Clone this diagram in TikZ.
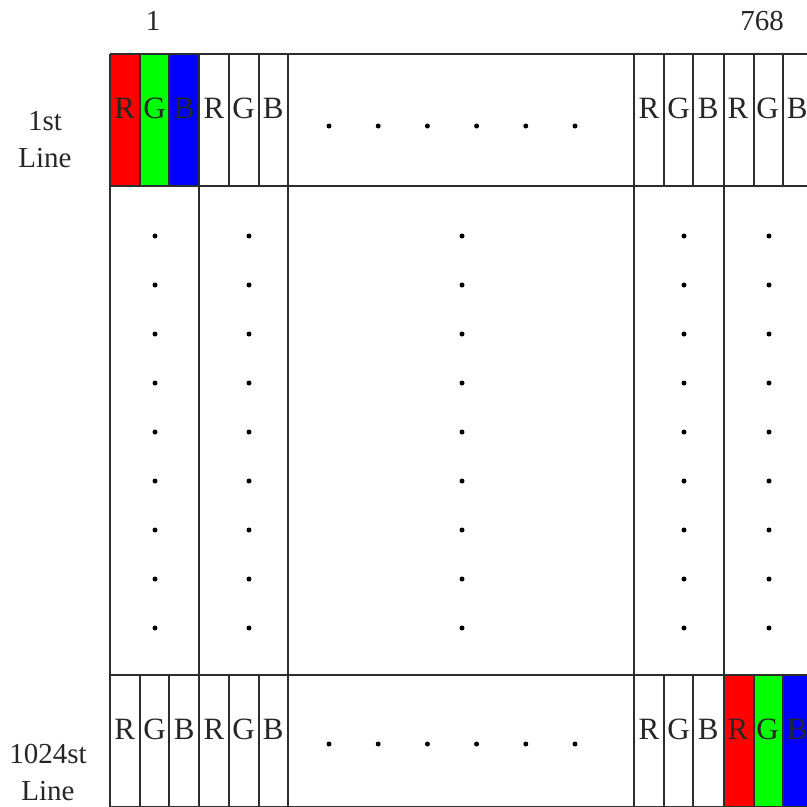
\documentclass[tikz,border=0pt]{standalone}
\usepackage{fontspec}
\setmainfont{Liberation Serif}
\definecolor{pixred}{RGB}{255, 0, 0}
\definecolor{pixgreen}{RGB}{0, 255, 0}
\definecolor{pixblue}{RGB}{0, 0, 255}
\definecolor{gridline}{RGB}{45, 45, 45}
\usetikzlibrary{positioning}

\begin{document}
\begin{tikzpicture}[x=1pt, y=-1pt,
        grid/.style={draw=gridline, line width=2pt},
        sub/.style={anchor=base, inner sep=0pt, text=black!85, font=\fontsize{31}{35}\selectfont},
        lbl/.style={align=center, inner sep=0pt, text=black!85, font=\fontsize{29}{37}\selectfont},
        pt/.style={circle, fill=black, inner sep=0pt, minimum size=5pt}
    ]
        \useasboundingbox (0,0) rectangle (807,807);
        \clip (0,0) rectangle (807,807);
        % coloured sub-pixels: first pixel of line 1, last pixel of line 1024
        \fill[pixred]   (110,54) rectangle (139.7,186);
        \fill[pixgreen] (139.7,54) rectangle (169.3,186);
        \fill[pixblue]  (169.3,54) rectangle (199,186);
        \fill[pixred]   (724,675) rectangle (753.7,807);
        \fill[pixgreen] (753.7,675) rectangle (783.3,807);
        \fill[pixblue]  (783.3,675) rectangle (813,807);
        % rows
        \draw[grid] (110,54) -- (820,54);
        \draw[grid] (110,186) -- (820,186);
        \draw[grid] (110,675) -- (820,675);
        \draw[grid] (110,807) -- (820,807);
        % pixel borders, full height
        \foreach \x in {110, 199, 288, 634, 724, 813}
            \draw[grid] (\x,54) -- (\x,807);
        % sub-pixel borders in first and last line
        \foreach \x in {139.7, 169.3, 229, 258.7, 663.7, 693.3, 753.7, 783.3} {
            \draw[grid] (\x,54) -- (\x,186);
            \draw[grid] (\x,675) -- (\x,807);
        }
        % R G B letters
        \foreach \grp/\xs in {l/110, r/634}
            \foreach \c [count=\i from 0] in {R,G,B,R,G,B} {
                \node[sub] (top-\grp-\i) at ({\xs+29.67*(\i+0.5)},118) {\c};
                \node[sub] (bot-\grp-\i) at ({\xs+29.67*(\i+0.5)},739) {\c};
            }
        % dots along the lines
        \foreach \i in {0,...,5} {
            \node[pt] (dt-\i) at ({329+49.2*\i},126) {};
            \node[pt] (db-\i) at ({329+49.2*\i},744) {};
        }
        % dots down the columns
        \foreach \x [count=\j] in {155, 249, 462, 684, 769}
            \foreach \k in {0,...,8}
                \node[pt] (dc-\j-\k) at (\x,{236+49*\k}) {};
        % labels
        \node[lbl, anchor=base] (first) at (153,30) {1};
        \node[lbl, anchor=base] (last) at (762,30) {768};
        \node[lbl, anchor=base] (line1) at (45,130) {1st};
        \node[lbl, anchor=base, yshift=-37pt] (line1b) at (line1.base) {Line};
        \node[lbl, anchor=base] (line2) at (48,763) {1024st};
        \node[lbl, anchor=base, yshift=-37pt] (line2b) at (line2.base) {Line};
    \end{tikzpicture}
\end{document}
